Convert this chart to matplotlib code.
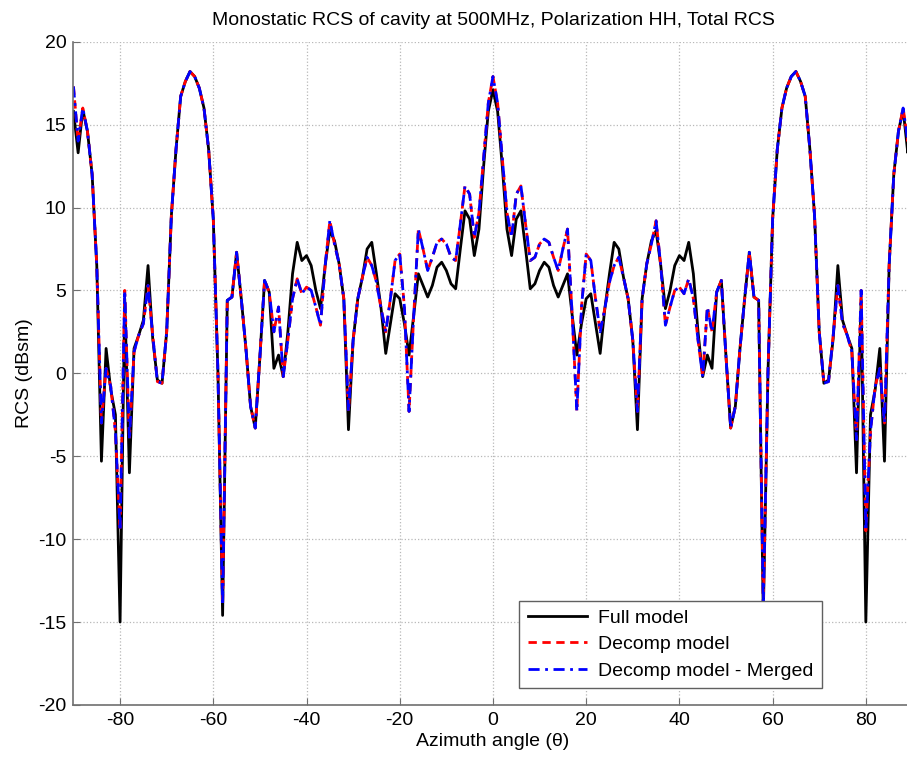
import numpy as np
import matplotlib
matplotlib.use("Agg")
import matplotlib.pyplot as plt

# Azimuth angles, 1 degree steps
angle = np.arange(-90, 91, 1)

# RCS of the full model (dBsm)
full_model = [
    15.8, 13.3, 15.9, 14.6, 12.0, 6.5, -5.3, 1.5, -1.0, -2.5,      # -90 .. -81
    -15.0, 4.5, -6.0, 1.5, 2.3, 3.2, 6.5, 2.1, -0.4, -0.6,         # -80 .. -71
    2.5, 9.5, 13.5, 16.7, 17.6, 18.2, 17.9, 17.2, 16.0, 13.5,      # -70 .. -61
    9.3, 0.0, -14.6, 4.4, 4.6, 7.3, 4.5, 1.5, -2.0, -3.3,          # -60 .. -51
    1.0, 5.6, 4.9, 0.3, 1.1, -0.2, 2.5, 6.0, 7.9, 6.8,             # -50 .. -41
    7.1, 6.5, 5.0, 3.9, 6.5, 8.6, 8.0, 6.6, 4.5, -3.4,             # -40 .. -31
    2.0, 4.5, 5.8, 7.5, 7.9, 6.0, 3.9, 1.2, 3.0, 4.8,              # -30 .. -21
    4.5, 3.0, 1.1, 3.5, 6.0, 5.3, 4.6, 5.3, 6.4, 6.7,              # -20 .. -11
    6.2, 5.4, 5.1, 7.5, 9.8, 9.3, 7.1, 8.7, 12.5, 15.8,            # -10 .. -1
    17.1,                                                          # 0
    15.8, 12.5, 8.7, 7.1, 9.3, 9.8, 7.5, 5.1, 5.4, 6.2,            # 1 .. 10
    6.7, 6.4, 5.3, 4.6, 5.3, 6.0, 3.5, 1.1, 3.0, 4.5,              # 11 .. 20
    4.8, 3.0, 1.2, 3.9, 6.0, 7.9, 7.5, 5.8, 4.5, 2.0,              # 21 .. 30
    -3.4, 4.5, 6.6, 8.0, 8.6, 6.5, 3.9, 5.0, 6.5, 7.1,             # 31 .. 40
    6.8, 7.9, 6.0, 2.5, -0.2, 1.1, 0.3, 4.9, 5.6, 1.0,             # 41 .. 50
    -3.3, -2.0, 1.5, 4.5, 7.3, 4.6, 4.4, -14.6, 0.0, 9.3,          # 51 .. 60
    13.5, 16.0, 17.2, 17.9, 18.2, 17.6, 16.7, 13.5, 9.5, 2.5,      # 61 .. 70
    -0.6, -0.4, 2.1, 6.5, 3.2, 2.3, 1.5, -6.0, 4.5, -15.0,         # 71 .. 80
    -2.5, -1.0, 1.5, -5.3, 6.5, 12.0, 14.6, 15.9, 13.3, 15.8,      # 81 .. 90
]

# RCS of the decomposed model (dBsm)
decomp_model = [
    17.3, 14.0, 16.0, 14.6, 12.0, 6.5, -3.0, 0.3, -0.8, -3.5,      # -90 .. -81
    -9.5, 5.0, -4.0, 1.3, 2.3, 3.0, 5.3, 2.3, -0.5, -0.6,          # -80 .. -71
    2.5, 9.5, 13.5, 16.7, 17.6, 18.2, 17.9, 17.2, 16.0, 13.5,      # -70 .. -61
    9.3, 0.0, -14.0, 4.4, 4.6, 7.3, 4.5, 1.5, -2.0, -3.3,          # -60 .. -51
    1.0, 5.6, 4.9, 2.5, 4.0, -0.2, 2.0, 4.5, 5.7, 4.8,             # -50 .. -41
    5.2, 5.0, 4.0, 2.9, 6.5, 9.2, 7.8, 6.6, 4.5, -2.3,             # -40 .. -31
    2.0, 4.5, 5.8, 7.0, 6.5, 5.5, 3.9, 2.5, 4.5, 6.8,              # -30 .. -21
    7.2, 4.0, -2.3, 3.5, 8.7, 7.5, 6.2, 7.0, 7.9, 8.1,             # -20 .. -11
    7.8, 7.0, 6.8, 9.0, 11.3, 10.8, 8.2, 9.7, 13.0, 16.3,          # -10 .. -1
    17.9,                                                          # 0
    16.3, 13.0, 9.7, 8.2, 10.8, 11.3, 9.0, 6.8, 7.0, 7.8,          # 1 .. 10
    8.1, 7.9, 7.0, 6.2, 7.5, 8.7, 3.5, -2.3, 4.0, 7.2,             # 11 .. 20
    6.8, 4.5, 2.5, 3.9, 5.5, 6.5, 7.0, 5.8, 4.5, 2.0,              # 21 .. 30
    -2.3, 4.5, 6.6, 7.8, 9.2, 6.5, 2.9, 4.0, 5.0, 5.2,             # 31 .. 40
    4.8, 5.7, 4.5, 2.0, -0.2, 4.0, 2.5, 4.9, 5.6, 1.0,             # 41 .. 50
    -3.3, -2.0, 1.5, 4.5, 7.3, 4.6, 4.4, -14.0, 0.0, 9.3,          # 51 .. 60
    13.5, 16.0, 17.2, 17.9, 18.2, 17.6, 16.7, 13.5, 9.5, 2.5,      # 61 .. 70
    -0.6, -0.5, 2.3, 5.3, 3.0, 2.3, 1.3, -4.0, 5.0, -9.5,          # 71 .. 80
    -3.5, -0.8, 0.3, -3.0, 6.5, 12.0, 14.6, 16.0, 14.0, 17.3,      # 81 .. 90
]

# Merged decomposition is visually identical to the decomposed model
merged_model = list(decomp_model)

x_ticks = [-80, -60, -40, -20, 0, 20, 40, 60, 80]
y_ticks = [-20, -15, -10, -5, 0, 5, 10, 15, 20]

plt.rcParams["font.family"] = ["Liberation Sans", "DejaVu Sans"]
plt.rcParams["font.size"] = 14
plt.rcParams["axes.unicode_minus"] = False

fig = plt.figure(figsize=(9.07, 7.58), dpi=100)
ax = fig.add_axes([0.081, 0.070, 0.925, 0.875])

ax.plot(angle, full_model, color="black", lw=2.0, label="Full model")
ax.plot(angle, decomp_model, color="red", lw=2.0, ls=(0, (3, 2)), label="Decomp model")
ax.plot(angle, merged_model, color="blue", lw=2.0, ls=(0, (4, 2, 1, 2)),
        label="Decomp model - Merged")

ax.set_xlim(-90, 90)
ax.set_ylim(-20, 20)
ax.set_xticks(x_ticks)
ax.set_yticks(y_ticks)
ax.grid(True, ls=":", color="#b8b8b8", lw=0.9)
ax.set_axisbelow(True)

for side in ["top", "right"]:
    ax.spines[side].set_visible(False)
for side in ["left", "bottom"]:
    ax.spines[side].set_color("#707070")
    ax.spines[side].set_linewidth(1.2)
ax.tick_params(direction="in", length=5, color="#707070", labelsize=14, pad=5)

ax.set_xlabel("Azimuth angle (\u03b8)", fontsize=14, labelpad=3)
ax.set_ylabel("RCS (dBsm)", fontsize=14, labelpad=4)
ax.set_title("Monostatic RCS of cavity at 500MHz, Polarization HH, Total RCS",
             fontsize=14, pad=12)

leg = ax.legend(loc="upper left", bbox_to_anchor=(0.52, 0.172), fancybox=False,
                edgecolor="#606060", framealpha=1, fontsize=14, handlelength=3,
                borderpad=0.45, labelspacing=0.45, handletextpad=0.6)
leg.get_frame().set_linewidth(1.0)

fig.savefig("out.png", dpi=100)
